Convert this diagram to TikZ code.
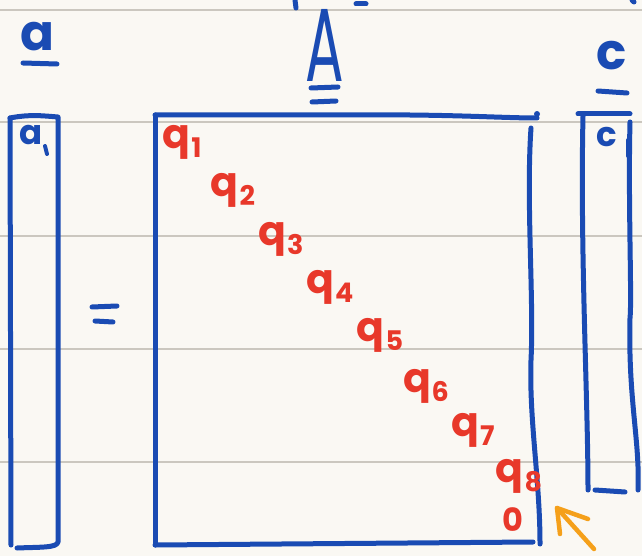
\documentclass[tikz,border=0pt]{standalone}
\usepackage{fontspec}
\setmainfont{Poppins}
\usetikzlibrary{arrows.meta}
\definecolor{paper}{HTML}{FAF8F3}
\definecolor{rulegrey}{HTML}{CBC7BF}
\definecolor{ink}{HTML}{1A4BB3}
\definecolor{redink}{HTML}{E8382A}
\definecolor{orangeink}{HTML}{F5A01A}
\newcommand\qsub[1]{q\kern0.02em\raisebox{-0.22em}{\fontsize{27}{27}\selectfont #1}}
\begin{document}
\begin{tikzpicture}[x=1pt,y=-1pt,
  pen/.style={draw=ink,line width=5pt,line cap=round,line join=round},
  ruled/.style={draw=rulegrey,line width=1.3pt},
  qlab/.style={text=redink,font=\bfseries\fontsize{41}{41}\selectfont,inner sep=0pt},
  bluelab/.style={text=ink,inner sep=0pt},
  arrowpen/.style={draw=orangeink,line width=4.5pt,line cap=round,line join=round}]
\fill[paper] (0,0) rectangle (642,556);
\useasboundingbox (0,0) rectangle (642,556);
% ruled lines
\foreach \yy in {10,122,236,349,462} \draw[ruled] (0,\yy) -- (642,\yy);
% cut-off strokes at top
\draw[pen] (295,0) -- (296,8);
\draw[pen] (356,4) -- (366,4);
\draw[pen] (632,0) -- (634,2);
% labels
\node[bluelab,font=\bfseries\fontsize{50}{50}\selectfont] (la) at (37,37) {a};
\draw[pen] (23,63) -- (57,64);
\node[bluelab,font=\fontsize{104}{104}\selectfont,xscale=0.55] (lA) at (325,45) {A};
\draw[pen] (311,88) -- (338,87);
\draw[pen] (312,102) -- (336,101);
\node[bluelab,font=\bfseries\fontsize{50}{50}\selectfont] (lc) at (612,56) {c};
\draw[pen] (598,91) -- (627,93);
% vector a
\draw[pen] (10,118) .. controls (30,114) and (45,116) .. (58,117) -- (58,542)
  .. controls (57,548) and (40,547) .. (17,548);
\draw[pen] (10,118) -- (11,545);
\node[bluelab,font=\bfseries\fontsize{34}{34}\selectfont] (a1) at (31,135) {a};
\draw[pen,line width=4pt] (45,146) -- (47,154);
% equals
\draw[pen] (92,307) -- (117,306);
\draw[pen] (95,321) -- (113,322);
% matrix A
\draw[pen] (155,115) -- (345,115) .. controls (450,114) and (500,118) .. (537,118);
\fill[ink] (537,114) circle (3pt);
\draw[pen] (155,115) -- (155,545);
\draw[pen] (155,545) -- (533,542);
\draw[pen] (531,128) .. controls (526,200) and (534,300) .. (531,360)
  .. controls (529,420) and (540,480) .. (540,544);
% vector c
\draw[pen] (578,114) -- (630,114);
\draw[pen] (583,116) .. controls (580,250) and (588,400) .. (588,490);
\draw[pen] (595,490) -- (625,492);
\draw[pen] (630,122) .. controls (628,200) and (632,300) .. (630,318)
  .. controls (628,400) and (640,440) .. (638,490);
\node[bluelab,font=\bfseries\fontsize{34}{34}\selectfont] (c1) at (607,137) {c};
\draw[pen,line width=4pt] (628,140) -- (628,156);
% diagonal entries
\node[qlab] (q1) at (182,142) {\qsub{1}};
\node[qlab] (q2) at (233,190) {\qsub{2}};
\node[qlab] (q3) at (281,239) {\qsub{3}};
\node[qlab] (q4) at (330,287) {\qsub{4}};
\node[qlab] (q5) at (380,335) {\qsub{5}};
\node[qlab] (q6) at (426,386) {\qsub{6}};
\node[qlab] (q7) at (473,430) {\qsub{7}};
\node[qlab] (q8) at (519,476) {\qsub{8}};
\node[qlab,font=\bfseries\fontsize{32}{32}\selectfont] (z) at (513,520) {0};
% orange arrow
\coordinate (tail) at (594,549);
\coordinate (tip) at (557,508);
\coordinate (barb1) at (588,519);
\coordinate (barb2) at (560,534);
\draw[arrowpen] (tail) -- (tip);
\draw[arrowpen] (barb1) -- (tip) -- (barb2);
\end{tikzpicture}
\end{document}
